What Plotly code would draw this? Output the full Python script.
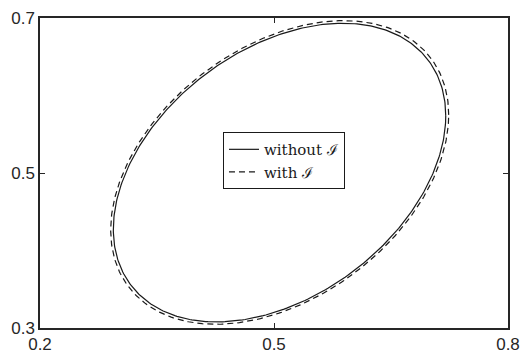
import numpy as np
import plotly.graph_objects as go

# Ellipse parameters (center and 2x2 covariance-like shape matrix) for each case
center_without = [0.5071, 0.5005]
shape_without = [[0.04541, 0.01560],
                 [0.01560, 0.03713]]

center_with = [0.5073, 0.5007]
shape_with = [[0.04695, 0.01610],
              [0.01610, 0.03838]]

series_names = ["without ℐ", "with ℐ"]

x_ticks = [0.2, 0.5, 0.8]
y_ticks = [0.3, 0.5, 0.7]


def ellipse_outline(center, shape, n=400):
    """Boundary {c + L u : |u| = 1} with L L^T = shape."""
    L = np.linalg.cholesky(np.array(shape))
    t = np.linspace(0, 2 * np.pi, n)
    u = np.vstack([np.cos(t), np.sin(t)])
    pts = L @ u
    return center[0] + pts[0], center[1] + pts[1]


ink = "#1a1a1a"
fig = go.Figure()

xs, ys = ellipse_outline(center_without, shape_without)
fig.add_trace(go.Scatter(x=xs, y=ys, mode="lines", name=series_names[0],
                         line=dict(color=ink, width=1.2)))

xd, yd = ellipse_outline(center_with, shape_with)
fig.add_trace(go.Scatter(x=xd, y=yd, mode="lines", name=series_names[1],
                         line=dict(color=ink, width=1.2, dash="6px,4px")))

axis_common = dict(
    showgrid=False, zeroline=False, automargin=False,
    showline=True, linecolor="#262626", linewidth=1.5,
    mirror="allticks", ticks="inside", ticklen=5, tickcolor="#262626",
    tickfont=dict(family="Liberation Sans, Arial, sans-serif", size=17, color="#262626"),
)

fig.update_xaxes(range=[0.2, 0.8], tickvals=x_ticks,
                 ticktext=[f"{v:.1f}" for v in x_ticks], **axis_common)
fig.update_yaxes(range=[0.3, 0.7], tickvals=y_ticks,
                 ticktext=[f"{v:.1f}" for v in y_ticks], **axis_common)

fig.update_layout(
    width=521, height=354,
    margin=dict(l=40, r=13, t=18, b=26),
    plot_bgcolor="white", paper_bgcolor="white",
    legend=dict(
        x=0.391, y=0.632, xanchor="left", yanchor="top",
        bgcolor="white", bordercolor="#1a1a1a", borderwidth=1,
        font=dict(family="DejaVu Serif, Liberation Serif, serif", size=15, color="#1a1a1a"),
        tracegroupgap=0,
    ),
)

fig.write_html("out.html")
